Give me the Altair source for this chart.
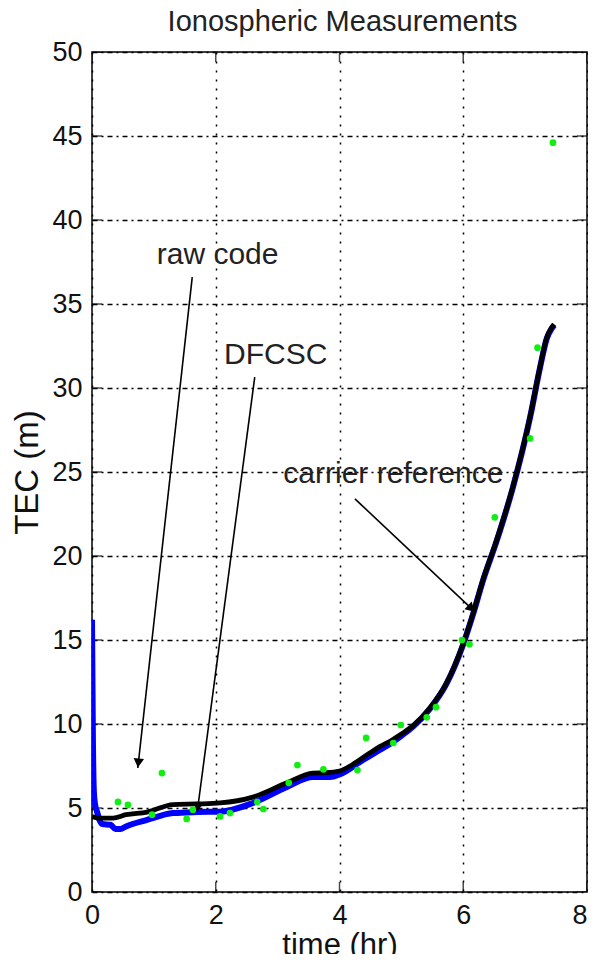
import math
import altair as alt
import pandas as pd

# ---------------- data ----------------
title_text = "Ionospheric Measurements"
x_title = "time (hr)"
y_title = "TEC (m)"
x_ticks = [0, 2, 4, 6, 8]
y_ticks = [0, 5, 10, 15, 20, 25, 30, 35, 40, 45, 50]

# carrier reference / DFCSC (black)
black_x = [0.0, 0.12, 0.34, 0.55, 0.89, 1.31, 1.69, 2.07, 2.6, 3.15, 3.57, 3.79, 4.0,
           4.2, 4.5, 4.65, 4.85, 5.0, 5.19, 5.46, 5.73, 6.0, 6.16, 6.32, 6.54, 6.80,
           7.08, 7.24, 7.35, 7.43, 7.47]
black_y = [4.5, 4.4, 4.4, 4.6, 4.76, 5.2, 5.24, 5.3, 5.65, 6.5, 7.08, 7.1, 7.2,
           7.56, 8.3, 8.65, 9.05, 9.4, 9.9, 10.95, 12.44, 14.8, 16.6, 18.6, 20.95, 24.1,
           28.3, 31.25, 33.0, 33.6, 33.8]

# raw-code smoothed (blue)
blue_x = [0.0, 0.015, 0.03, 0.05, 0.08, 0.12, 0.17, 0.3, 0.38, 0.46, 0.55, 0.89, 1.31,
          1.7, 2.07, 2.6, 3.15, 3.57, 3.85, 4.0, 4.38, 4.65, 4.85, 5.0, 5.19, 5.46, 5.73,
          6.0, 6.16, 6.32, 6.54, 6.80, 7.08, 7.24, 7.35, 7.43, 7.47]
blue_y = [16.2, 9.0, 6.0, 5.2, 4.8, 4.3, 4.05, 4.0, 3.75, 3.75, 3.9, 4.29, 4.7,
          4.76, 4.78, 5.3, 6.25, 6.85, 6.85, 7.0, 7.86, 8.45, 8.9, 9.3, 9.85, 10.9, 12.4,
          14.75, 16.55, 18.55, 20.9, 24.05, 28.25, 31.2, 32.95, 33.55, 33.75]

# raw code measurements (green dots)
green_x = [0.42, 0.58, 0.97, 1.13, 1.53, 1.63, 2.07, 2.23, 2.67, 2.77, 3.18, 3.32, 3.74,
           4.29, 4.43, 4.87, 4.99, 5.41, 5.56, 5.98, 6.1, 6.51, 7.08, 7.2, 7.45]
green_y = [5.36, 5.18, 4.6, 7.08, 4.35, 4.9, 4.5, 4.7, 5.35, 4.94, 6.5, 7.56, 7.3,
           7.26, 9.17, 8.87, 9.94, 10.4, 11.0, 15.0, 14.75, 22.3, 27.0, 32.4, 44.6]

# annotations
ann_text = ["raw code", "DFCSC", "carrier reference"]
ann_x = [2.03, 2.97, 4.87]
ann_y = [37.9, 31.96, 24.9]
arrow_x1 = [1.62, 2.63, 4.25]
arrow_y1 = [36.6, 30.65, 23.4]
arrow_x2 = [0.74, 1.70, 6.19]
arrow_y2 = [7.38, 4.76, 16.67]

# ---------------- layout ----------------
W, H = 495, 840
XMAX, YMAX = 8, 50
FONT = "Liberation Sans"

black_df = pd.DataFrame({"x": black_x, "y": black_y})
blue_df = pd.DataFrame({"x": blue_x, "y": blue_y})
green_df = pd.DataFrame({"x": green_x, "y": green_y})
ann_df = pd.DataFrame({"x": ann_x, "y": ann_y, "t": ann_text})
arr_df = pd.DataFrame({"x": arrow_x1, "y": arrow_y1, "x2": arrow_x2, "y2": arrow_y2})
title_df = pd.DataFrame({"t": [title_text]})

# arrow head orientation (screen space) and placement (centre set back from tip)
head_rows = []
for x1, y1, x2, y2 in zip(arrow_x1, arrow_y1, arrow_x2, arrow_y2):
    dx = (x2 - x1) * W / XMAX
    dy = -(y2 - y1) * H / YMAX
    L = math.hypot(dx, dy)
    ux, uy = dx / L, dy / L
    ang = math.degrees(math.atan2(dx, -dy)) % 360
    back = 5.0
    hx = x2 - ux * back * XMAX / W
    hy = y2 + uy * back * YMAX / H
    head_rows.append({"x": hx, "y": hy, "a": ang})
head_df = pd.DataFrame(head_rows)

xscale = alt.Scale(domain=[0, XMAX], nice=False, zero=False)
yscale = alt.Scale(domain=[0, YMAX], nice=False, zero=False)

x_axis = alt.Axis(values=x_ticks, title=x_title, grid=True, gridDash=[2, 7],
                  gridColor="black", gridWidth=1.5, gridOpacity=1, ticks=False,
                  domain=False, labelFont=FONT, labelFontSize=27, labelColor="#111",
                  labelPadding=10, labelFlush=False, labelOverlap=False,
                  labelAlign=alt.condition("datum.value >= 8", alt.value("right"),
                                           alt.value("center")),
                  titleFont=FONT, titleFontSize=31, titleFontWeight="normal",
                  titleColor="#111", titlePadding=2, format="d")
y_axis = alt.Axis(values=y_ticks, title=y_title, grid=True, gridDash=[5, 4, 2, 4],
                  gridColor="black", gridWidth=1.5, gridOpacity=1, ticks=False,
                  domain=False, labelFont=FONT, labelFontSize=27, labelColor="#111",
                  labelPadding=10, labelFlush=False, labelOverlap=False,
                  titleFont=FONT, titleFontSize=33, titleFontWeight="normal",
                  titleColor="#111", titlePadding=7, format="d")

X = alt.X("x:Q", scale=xscale, axis=x_axis)
Y = alt.Y("y:Q", scale=yscale, axis=y_axis)

# inward ticks on all four sides (clipped half-ticks)
ytick_df = pd.DataFrame({"y": y_ticks})
xtick_df = pd.DataFrame({"x": x_ticks})
tick_left = alt.Chart(ytick_df).mark_tick(orient="horizontal", size=20, thickness=1.5,
                                          color="black", clip=True).encode(
    y=Y, x=alt.value(0))
tick_right = alt.Chart(ytick_df).mark_tick(orient="horizontal", size=20, thickness=1.5,
                                           color="black", clip=True).encode(
    y=Y, x=alt.value(W))
tick_bottom = alt.Chart(xtick_df).mark_tick(orient="vertical", size=20, thickness=1.5,
                                            color="black", clip=True).encode(
    x=X, y=alt.value(H))
tick_top = alt.Chart(xtick_df).mark_tick(orient="vertical", size=20, thickness=1.5,
                                         color="black", clip=True).encode(
    x=X, y=alt.value(0))

blue = alt.Chart(blue_df).mark_line(color="#0000ff", strokeWidth=6,
                                    interpolate="monotone", clip=True).encode(
    x=X, y=Y, order="x:Q")
black = alt.Chart(black_df).mark_line(color="black", strokeWidth=4.8,
                                      interpolate="monotone", clip=True).encode(
    x=X, y=Y, order="x:Q")
green = alt.Chart(green_df).mark_point(filled=True, shape="circle", size=45,
                                       color="#11ee11", opacity=1).encode(x=X, y=Y)

arrows = alt.Chart(arr_df).mark_rule(color="black", strokeWidth=1.6).encode(
    x=X, y=Y, x2="x2:Q", y2="y2:Q")
heads = alt.Chart(head_df).mark_point(shape="triangle-up", filled=True, size=110,
                                      color="black", opacity=1).encode(
    x=X, y=Y, angle=alt.Angle("a:Q", scale=None))
labels = alt.Chart(ann_df).mark_text(font=FONT, fontSize=30, color="#222",
                                     align="center", baseline="middle").encode(
    x=X, y=Y, text="t:N")

title_mark = alt.Chart(title_df).mark_text(font=FONT, fontSize=29, color="#222",
                                           align="center", baseline="middle").encode(
    x=alt.value(W / 2 + 3), y=alt.value(-30), text="t:N")

chart = alt.layer(
    tick_left, tick_right, tick_bottom, tick_top,
    blue, black, green, arrows, heads, labels, title_mark
).properties(
    width=W, height=H,
    padding={"left": 84, "top": 44, "right": 1, "bottom": 62},
    autosize=alt.AutoSizeParams(type="none"),
).configure_view(stroke="black", strokeWidth=1.5)

chart.save("out.html", embed_options={"renderer": "svg", "actions": False})
